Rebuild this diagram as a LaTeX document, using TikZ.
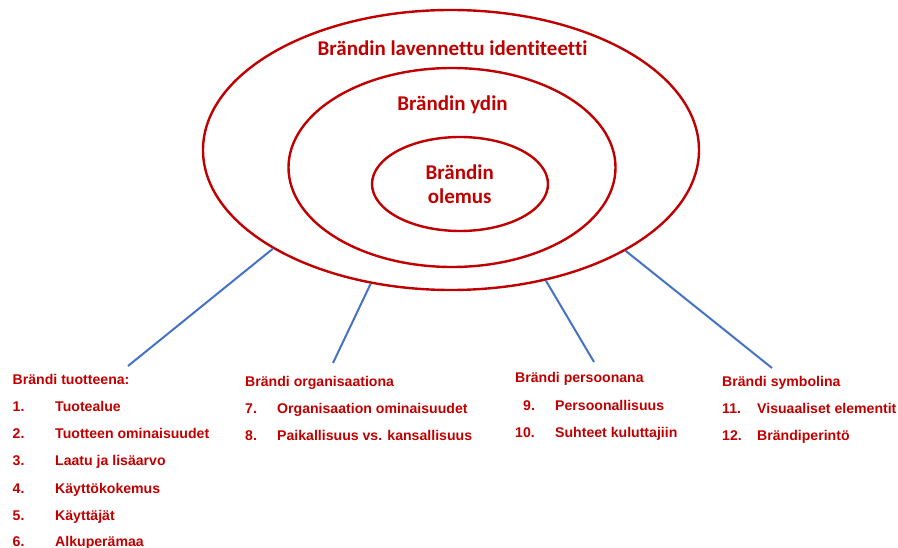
\documentclass[tikz,border=0pt]{standalone}
\usepackage{fontspec}
\setmainfont{Liberation Sans}
\newfontfamily\calibri[Ligatures=NoCommon]{Carlito}
\usetikzlibrary{shapes.geometric}
\definecolor{bred}{HTML}{C00000}
\definecolor{bblue}{HTML}{4472C4}
\tikzset{
  ring/.style={ellipse, draw=bred, line width=2.4pt, inner sep=0pt},
  rtext/.style={anchor=base, text=bred, font=\calibri\bfseries\fontsize{21}{25}\selectfont, inner sep=0pt},
  conn/.style={draw=bblue, line width=2pt},
  lst/.style={anchor=base west, text=bred, font=\bfseries\fontsize{14.1}{17}\selectfont, inner sep=0pt}
}
\begin{document}
\begin{tikzpicture}[x=1pt,y=-1pt]
\useasboundingbox (0,0) rectangle (898,548);
% ellipses
\node[ring, minimum width=496pt, minimum height=280pt] (outer) at (451,150) {};
\node[ring, minimum width=327pt, minimum height=199pt] (middle) at (452,167.5) {};
\node[ring, minimum width=176pt, minimum height=94pt] (inner) at (460,184) {};
\node[rtext] (t1) at (452.5,56) {Brändin lavennettu identiteetti};
\node[rtext] (t2) at (452.5,111) {Brändin ydin};
\node[rtext] (t3) at (459.7,180) {Brändin};
\node[rtext] (t4) at (459.7,204) {olemus};
% connectors
\coordinate (e1) at (128,366);
\coordinate (e2) at (333,363);
\coordinate (e3) at (594,362);
\coordinate (e4) at (772,368);
\draw[conn] (outer.209.7) -- (e1);
\draw[conn] (outer.239.7) -- (e2);
\draw[conn] (outer.306.1) -- (e3);
\draw[conn] (outer.330.4) -- (e4);
% column 1
\node[lst] (h1) at (12.5,384.3) {Brändi tuotteena:};
\node[lst] (n1) at (12.5,411.5) {1.};  \node[lst] (i1) at (55,411.5) {Tuotealue};
\node[lst] (n2) at (12.5,438.5) {2.};  \node[lst] (i2) at (55,438.5) {Tuotteen ominaisuudet};
\node[lst] (n3) at (12.5,465.5) {3.};  \node[lst] (i3) at (55,465.5) {Laatu ja lisäarvo};
\node[lst] (n4) at (12.5,493) {4.};    \node[lst] (i4) at (55,493) {Käyttökokemus};
\node[lst] (n5) at (12.5,520) {5.};    \node[lst] (i5) at (55,520) {Käyttäjät};
\node[lst] (n6) at (12.5,546.5) {6.};  \node[lst] (i6) at (55,546.5) {Alkuperämaa};
% column 2
\node[lst] (h2) at (245,386.7) {Brändi organisaationa};
\node[lst] (n7) at (245,413.3) {7.};   \node[lst] (i7) at (277,413.3) {Organisaation ominaisuudet};
\node[lst] (n8) at (245,440) {8.};     \node[lst] (i8) at (277,440) {Paikallisuus vs. kansallisuus};
% column 3
\node[lst] (h3) at (515,382.7) {Brändi persoonana};
\node[lst] (n9) at (523,410) {9.};     \node[lst] (i9) at (555,410) {Persoonallisuus};
\node[lst] (n10) at (515,437.3) {10.}; \node[lst] (i10) at (555,437.3) {Suhteet kuluttajiin};
% column 4
\node[lst] (h4) at (722,386.7) {Brändi symbolina};
\node[lst] (n11) at (722,413.3) {11.}; \node[lst] (i11) at (757,413.3) {Visuaaliset elementit};
\node[lst] (n12) at (722,440) {12.};   \node[lst] (i12) at (757,440) {Brändiperintö};
\end{tikzpicture}
\end{document}
